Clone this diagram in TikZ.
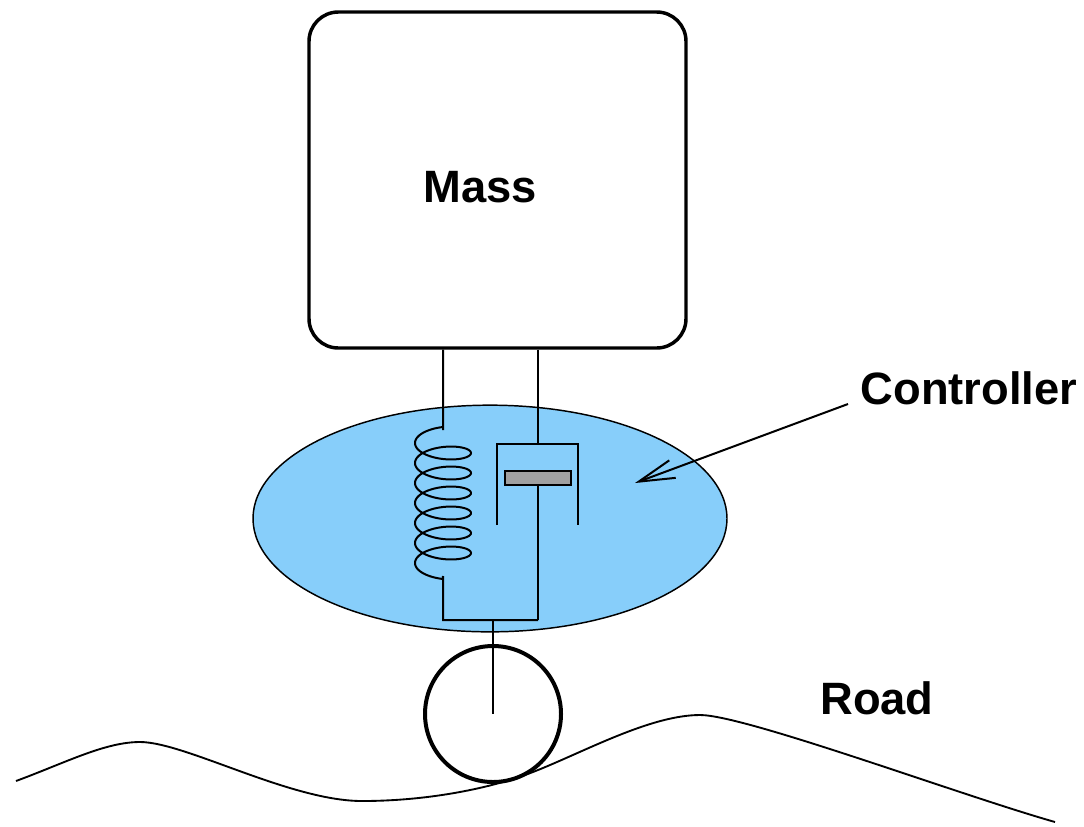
\documentclass[tikz,border=0pt]{standalone}
\usepackage{fontspec}
\setmainfont{Liberation Sans}
\usetikzlibrary{arrows.meta,shapes.geometric}
\definecolor{ctrlblue}{RGB}{135,206,250}
\definecolor{pistongray}{RGB}{160,160,160}
\tikzset{
  caption/.style={font=\bfseries\fontsize{34}{40}\selectfont, inner sep=0pt, anchor=base},
  massbox/.style={draw, line width=2.6pt, rounded corners=22pt, fill=white,
                  minimum width=282.75pt, minimum height=252pt, inner sep=0pt},
  ctrlzone/.style={draw, ellipse, line width=1.1pt, fill=ctrlblue,
                   minimum width=355.5pt, minimum height=170pt, inner sep=0pt},
  wheel/.style={draw, circle, line width=3pt, minimum size=102pt, inner sep=0pt},
  part/.style={line width=1.5pt},
  road/.style={line width=1.4pt},
  pointer/.style={line width=1.5pt, -{Straight Barb[length=27pt, width=14pt, line width=1.5pt]}}
}
\begin{document}
\begin{tikzpicture}[x=0.75pt, y=-0.75pt]
  \useasboundingbox (0,0) rectangle (1084,826);

  % controller region behind the suspension
  \node[ctrlzone] (ctrl) at (490,518.5) {};

  % sprung mass
  \node[massbox] (mass) at (497.5,180) {};
  \node[caption] (masstext) at (480,202) {Mass};

  % attachment points
  \coordinate (springtop) at (443,349.5);
  \coordinate (springstart) at (443,430);
  \coordinate (springend) at (443,576);
  \coordinate (rodtop) at (538,349.5);
  \coordinate (cylcap) at (538,444);
  \coordinate (rodfoot) at (538,620);
  \coordinate (springfoot) at (443,620);
  \coordinate (hub) at (493,620);
  \coordinate (axle) at (493,714);

  % spring: projected helix
  \draw[part] (springtop) -- (springstart)
    plot[domain=-4.7124:36.1283, samples=600, smooth]
      ({443+28*cos(\x r)}, {453+3.1831*\x-11*sin(\x r)})
    -- (springend) -- (springfoot) -- (rodfoot);

  % damper: cylinder, piston and rod
  \draw[part] (rodtop) -- (cylcap);
  \draw[part] (497,525) -- (497,444) -- (578,444) -- (578,525);
  \node[draw, line width=1.5pt, fill=pistongray, minimum width=49.5pt,
        minimum height=10.5pt, inner sep=0pt] (piston) at (538,478) {};
  \draw[part] (piston.south) -- (rodfoot);

  % wheel and its stem
  \node[wheel] (wheelnode) at (axle) {};
  \draw[part] (hub) -- (axle);

  % road surface
  \draw[road] (16,781)
    .. controls (66,762.5) and (105,742) .. (140,742)
    .. controls (185,742) and (290,801) .. (362,801)
    .. controls (430,801) and (493,787.6) .. (533,772)
    .. controls (583,752.5) and (650,715) .. (700,715)
    .. controls (745,715) and (960,795) .. (1055,822);

  % labels
  \node[caption] (ctrltext) at (969,404) {Controller};
  \node[caption] (roadtext) at (877,714) {Road};

  \coordinate (ptrstart) at (848,404);
  \coordinate (ptrtip) at (635,483);
  \draw[pointer] (ptrstart) -- (ptrtip);
\end{tikzpicture}
\end{document}
